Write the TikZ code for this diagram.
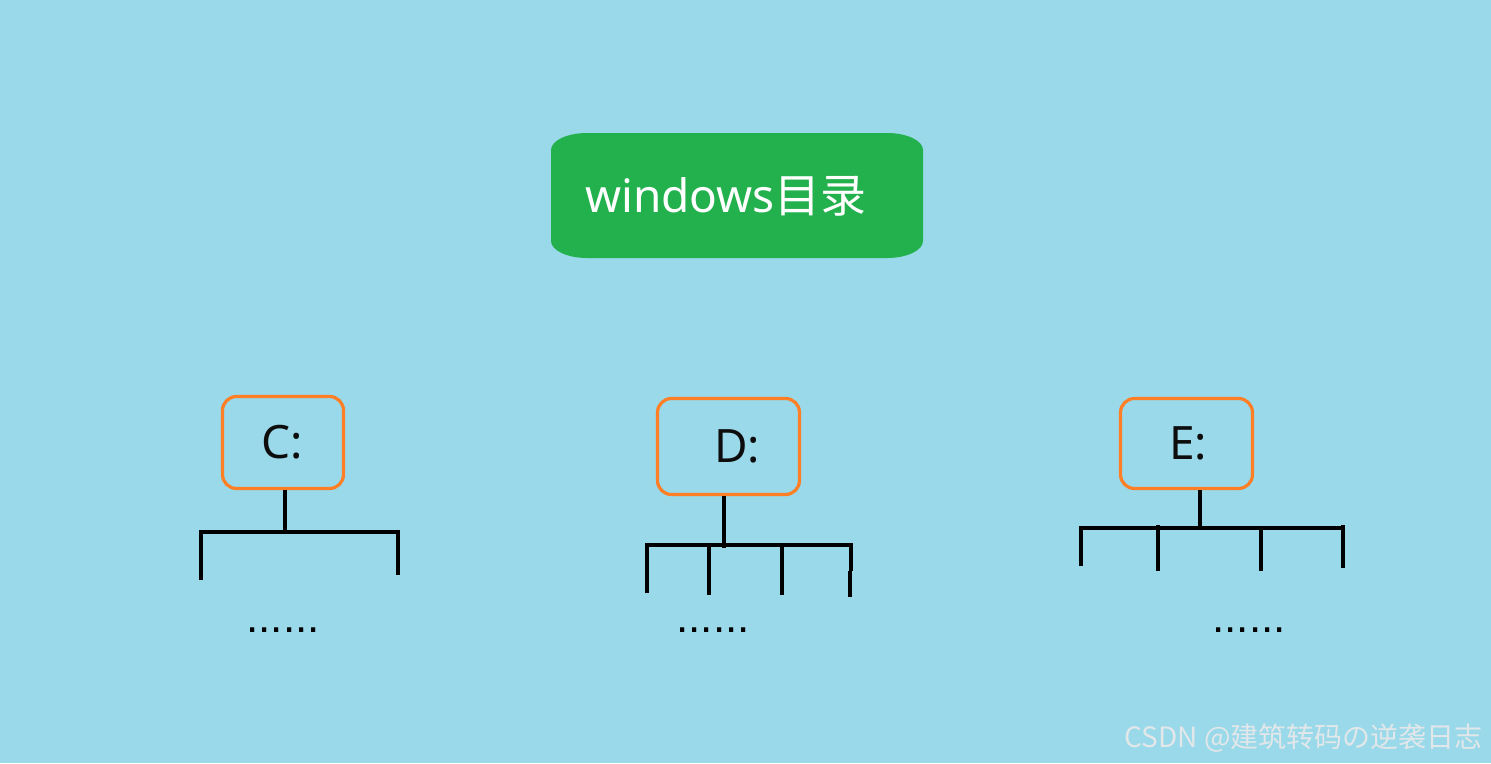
\documentclass[tikz,border=0pt]{standalone}
\usepackage{fontspec}
\setmainfont{Noto Sans}
\newfontfamily\cjk{Noto Sans CJK SC}
\newfontfamily\dotfont{Liberation Sans}
\definecolor{bgblue}{RGB}{153,217,234}
\definecolor{wingreen}{RGB}{34,177,76}
\definecolor{drvorange}{RGB}{255,127,39}
\definecolor{wmark}{RGB}{226,231,233}
\tikzset{
  drive/.style={draw=drvorange, line width=3.2pt, rounded corners=14pt, inner sep=0pt, font=\fontsize{46}{50}\selectfont, text=black!95},
  rootlabel/.style={inner sep=0pt, text=white, font=\fontsize{46}{50}\selectfont},
  branch/.style={line width=4pt, black},
  dotsnode/.style={inner sep=0pt, anchor=base, font=\dotfont\fontsize{44}{48}\selectfont},
}
\begin{document}
\begin{tikzpicture}[x=1pt,y=-1pt]
\fill[bgblue] (0,0) rectangle (1491,763);
\useasboundingbox (0,0) rectangle (1491,763);
% root box
\fill[wingreen] (587,133) -- (887,133)
  arc[start angle=-90, end angle=0, x radius=36, y radius=17] -- (923,241)
  arc[start angle=0, end angle=90, x radius=36, y radius=17] -- (587,258)
  arc[start angle=90, end angle=180, x radius=36, y radius=17] -- (551,150)
  arc[start angle=180, end angle=270, x radius=36, y radius=17] -- cycle;
\node[rootlabel] (root) at (726,196) {windows{\cjk 目录}};
% drive boxes
\node[drive, minimum width=121pt, minimum height=92pt] (C) at (283,442.5) {\hspace*{-2pt}C:};
\node[drive, minimum width=142pt, minimum height=96pt] (D) at (728.5,446.5) {\hspace*{17pt}D:};
\node[drive, minimum width=132pt, minimum height=90pt] (E) at (1186.5,443.5) {\hspace*{3pt}E:};
% C tree
\draw[branch] (C.south -| 285,0) -- (285,532);
\draw[branch] (201,580) -- (201,532) -- (398,532) -- (398,575);
% D tree
\draw[branch] (D.south -| 724,0) -- (724,548);
\draw[branch] (647,593) -- (647,545) -- (851,545) -- (851,571);
\draw[branch] (709,545) -- (709,595);
\draw[branch] (782,545) -- (782,595);
\draw[branch] (850,571) -- (850,597);
% E tree
\draw[branch] (E.south -| 1200,0) -- (1200,528);
\draw[branch] (1081,566) -- (1081,528) -- (1343,528);
\draw[branch] (1158,525) -- (1158,571);
\draw[branch] (1261,528) -- (1261,571);
\draw[branch] (1343,525) -- (1343,568);
% dots
\node[dotsnode] (cdots) at (283,632) {......};
\node[dotsnode] (ddots) at (713,632) {......};
\node[dotsnode] (edots) at (1249,632) {......};
% watermark
\node[inner sep=0pt, anchor=base east, text=wmark, font=\cjk\fontsize{28}{30}\selectfont] (wm) at (1483,747) {CSDN @建筑转码の逆袭日志};
\end{tikzpicture}
\end{document}
